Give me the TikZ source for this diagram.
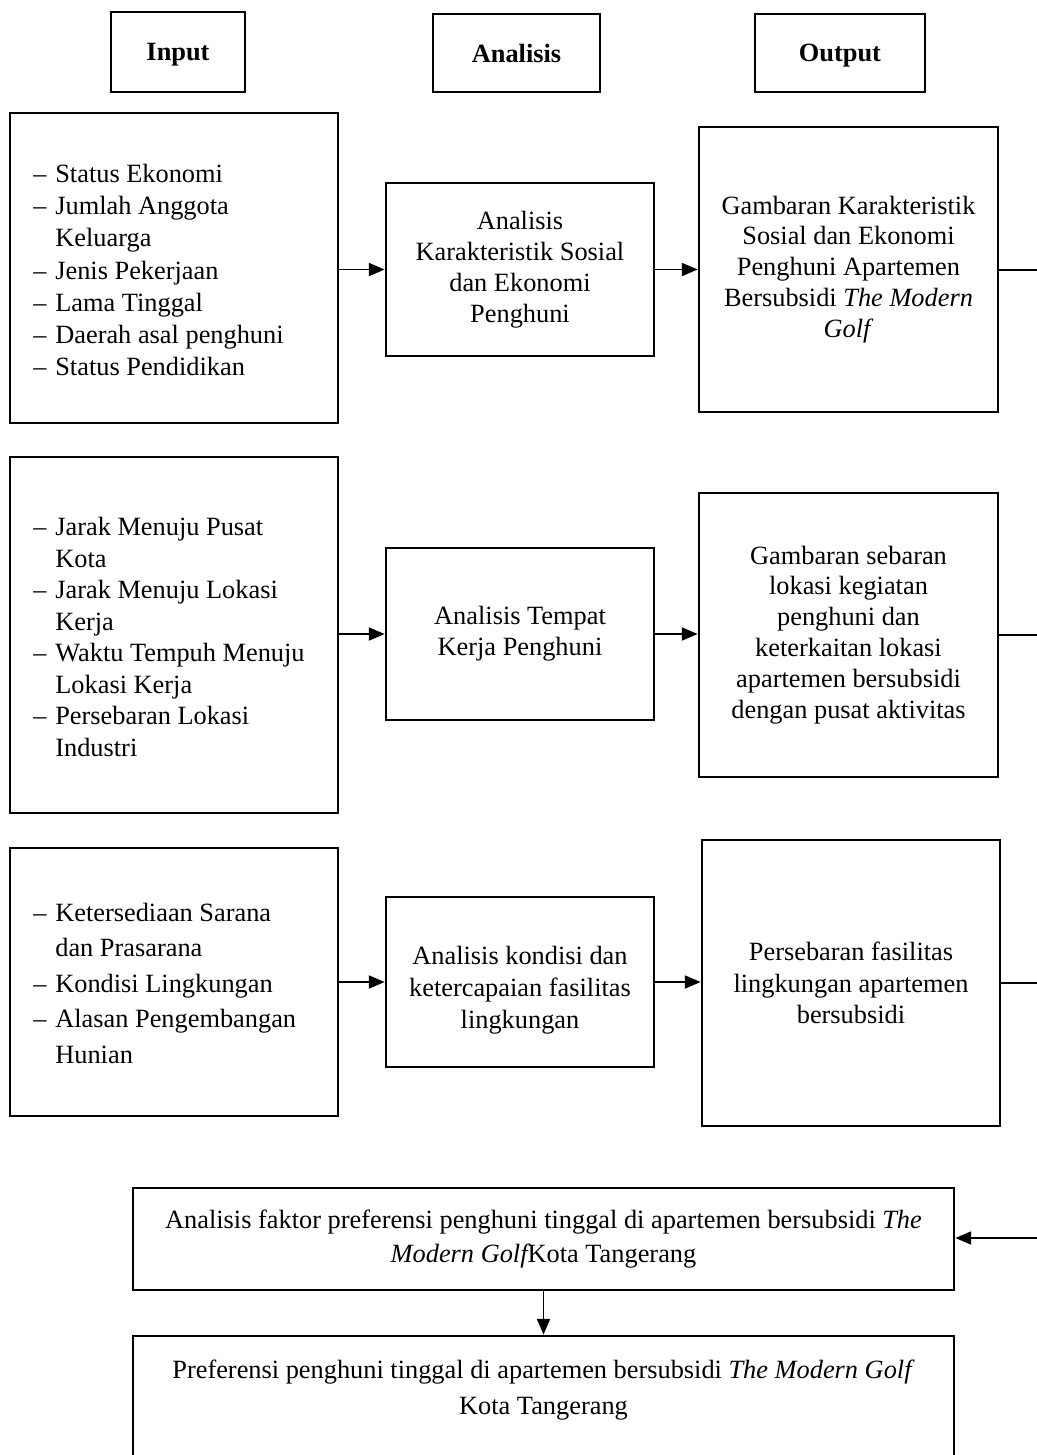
\documentclass[tikz,border=0pt]{standalone}
\usepackage{fontspec}
\setmainfont{Liberation Serif}
\usetikzlibrary{arrows.meta}
\newcommand{\itm}{\makebox[0.44cm][l]{--}}
\newcommand{\ind}{\hspace*{0.44cm}}
\tikzset{
  kotak/.style={draw, line width=1.6pt, inner sep=0pt, align=center},
  judul/.style={kotak, text depth=0pt, font=\fontsize{15}{17.6}\selectfont\bfseries},
  ukuran/.style 2 args={minimum width=#1*0.02cm, minimum height=#2*0.02cm},
  teks/.style={inner sep=0pt, align=center},
  daftar/.style={inner sep=0pt, align=left, anchor=west},
  panah/.style={line width=0.8pt, -{Triangle[length=9pt,width=7.5pt]}},
  garis/.style={line width=0.8pt}
}
\begin{document}
\begin{tikzpicture}[x=0.02cm, y=-0.02cm, font=\fontsize{15}{17.6}\selectfont]
                    \useasboundingbox (0,0) rectangle (1037,1455);
                    % judul kolom
                    \node[judul, ukuran={134}{80}] (hin) at (178,52) {Input};
                    \node[judul, ukuran={167}{78}] (han) at (516.5,53) {Analisis};
                    \node[judul, ukuran={170}{78}] (hout) at (840,53) {Output};
                    % baris 1
                    \node[kotak, ukuran={328}{310}] (in1) at (174,268) {};
                    \node[daftar, font=\fontsize{15}{18.3}\selectfont] (in1t) at (33,270) {\itm Status Ekonomi\\ \itm Jumlah Anggota\\ \ind Keluarga\\ \itm Jenis Pekerjaan\\ \itm Lama Tinggal\\ \itm Daerah asal penghuni\\ \itm Status Pendidikan};
                    \node[kotak, ukuran={268}{173}] (an1) at (520,269.5) {Analisis\\ Karakteristik Sosial\\ dan Ekonomi\\ Penghuni};
                    \node[kotak, ukuran={299}{285}] (out1) at (848.5,269.5) {Gambaran Karakteristik\\ Sosial dan Ekonomi\\ Penghuni Apartemen\\ Bersubsidi \textit{The Modern}\\ \textit{Golf}};
                    % baris 2
                    \node[kotak, ukuran={328}{356}] (in2) at (174,635) {};
                    \node[daftar, font=\fontsize{15}{17.9}\selectfont] (in2t) at (33,637) {\itm Jarak Menuju Pusat\\ \ind Kota\\ \itm Jarak Menuju Lokasi\\ \ind Kerja\\ \itm Waktu Tempuh Menuju\\ \ind Lokasi Kerja\\ \itm Persebaran Lokasi\\ \ind Industri};
                    \node[kotak, ukuran={268}{172}] (an2) at (520,634) {Analisis Tempat\\ Kerja Penghuni};
                    \node[kotak, ukuran={299}{284}] (out2) at (848.5,635) {Gambaran sebaran\\ lokasi kegiatan\\ penghuni dan\\ keterkaitan lokasi\\ apartemen bersubsidi\\ dengan pusat aktivitas};
                    % baris 3
                    \node[kotak, ukuran={328}{268}] (in3) at (174,982) {};
                    \node[daftar, font=\fontsize{15}{20.2}\selectfont] (in3t) at (33,983) {\itm Ketersediaan Sarana\\ \ind dan Prasarana\\ \itm Kondisi Lingkungan\\ \itm Alasan Pengembangan\\ \ind Hunian};
                    \node[kotak, ukuran={268}{170}] (an3) at (520,982) {};
                    \node[teks, font=\fontsize{15}{18.1}\selectfont] (an3t) at (520,990) {Analisis kondisi dan\\ ketercapaian fasilitas\\ lingkungan};
                    \node[kotak, ukuran={298}{286}, font=\fontsize{15}{18}\selectfont] (out3) at (851,983) {Persebaran fasilitas\\ lingkungan apartemen\\ bersubsidi};
                    % kesimpulan
                    \node[kotak, ukuran={821}{102}, font=\fontsize{15}{19.8}\selectfont] (faktor) at (543.5,1239) {Analisis faktor preferensi penghuni tinggal di apartemen bersubsidi \textit{The}\\ {\itshape Modern Golf}Kota Tangerang};
                    \node[kotak, ukuran={821}{140}] (pref) at (543.5,1406) {};
                    \node[teks, font=\fontsize{15}{21}\selectfont] (preft) at (543.5,1390) {Preferensi penghuni tinggal di apartemen bersubsidi \textit{The Modern Golf}\\ Kota Tangerang};
                    % ujung kanan
                    \coordinate (e1) at (1037,270);
                    \coordinate (e2) at (1037,635);
                    \coordinate (e3) at (1037,983);
                    \coordinate (e4) at (1037,1238);
                    % panah
                    \draw[panah] (an1.west -| in1.east) -- (an1.west);
                    \draw[panah] (an1.east) -- (out1.west |- an1.east);
                    \draw[garis] (out1.east |- e1) -- (e1);
                    \draw[panah] (an2.west -| in2.east) -- (an2.west);
                    \draw[panah] (an2.east) -- (out2.west |- an2.east);
                    \draw[garis] (out2.east |- e2) -- (e2);
                    \draw[panah] (an3.west -| in3.east) -- (an3.west);
                    \draw[panah] (an3.east) -- (out3.west |- an3.east);
                    \draw[garis] (out3.east |- e3) -- (e3);
                    \draw[panah] (e4) -- (faktor.east |- e4);
                    \draw[panah] (faktor.south) -- (pref.north);
                \end{tikzpicture}
\end{document}
